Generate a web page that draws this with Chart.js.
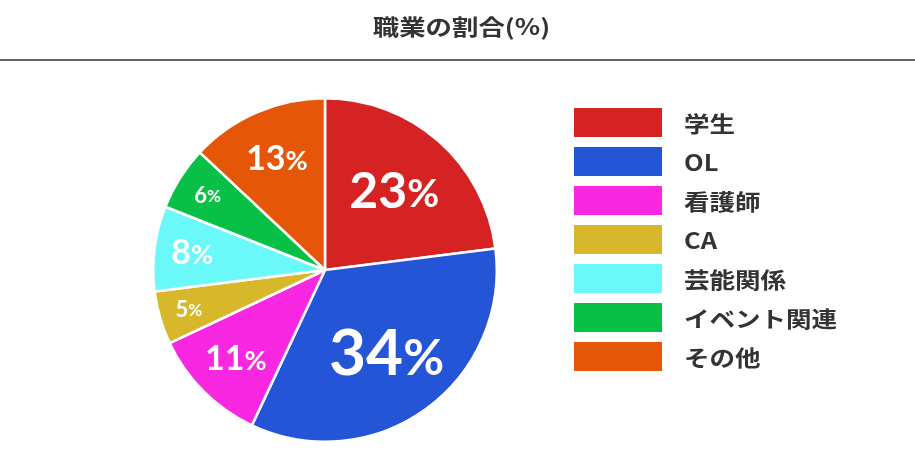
<!DOCTYPE html>
<html lang="ja">
<head>
<meta charset="UTF-8">
<title>職業の割合(%)</title>
<script src="https://cdn.jsdelivr.net/npm/chart.js"></script>
<style>
  html, body { margin: 0; padding: 0; background: #fff; }
  .wrap { position: relative; width: 915px; height: 450px; }
</style>
</head>
<body>
<div class="wrap">
  <canvas id="pie_jobs" width="915" height="450"></canvas>
</div>

<script>
    // data
    const shokugyo = ['学生', 'OL', '看護師', 'CA', '芸能関係', 'イベント関連', 'その他'];
    const wariai = [23, 34, 11, 5, 8, 6, 13];
    const iro = ['#d52323', '#2355d6', '#f828e2', '#d7b82a', '#6bf8f8', '#08c046', '#e65608'];
    const titleText = '職業の割合(%)';

    const jpFont = '"Noto Sans CJK JP", "Roboto", sans-serif';

    // text in the original is a bit wider than the font, so stretch it
    function wideText(ctx, text, x, y, sx) {
        ctx.save();
        ctx.translate(x, y);
        ctx.scale(sx, 1);
        ctx.fillText(text, 0, 0);
        ctx.restore();
    }

    // title + rule under it
    const headerPlugin = {
        id: 'header',
        afterDraw(chart) {
            const ctx = chart.ctx;
            ctx.save();
            ctx.fillStyle = '#333';
            ctx.font = 'bold 22px ' + jpFont;
            ctx.textAlign = 'center';
            ctx.textBaseline = 'middle';
            wideText(ctx, titleText, chart.width / 2 + 4, 27, 1.2);
            ctx.strokeStyle = '#333';
            ctx.lineWidth = 1.5;
            ctx.beginPath();
            ctx.moveTo(0, 60);
            ctx.lineTo(chart.width, 60);
            ctx.stroke();
            ctx.restore();
        }
    };

    // percentage labels inside slices
    function fontSizeFor(v) {
        if (v >= 30) return 64;
        if (v >= 20) return 50;
        if (v >= 8) return 34;
        return 22;
    }

    const sliceLabelPlugin = {
        id: 'sliceLabels',
        afterDatasetsDraw(chart) {
            const ctx = chart.ctx;
            const meta = chart.getDatasetMeta(0);
            const total = wariai.reduce((a, b) => a + b, 0);
            ctx.save();
            ctx.fillStyle = '#fff';
            ctx.textBaseline = 'middle';
            meta.data.forEach(function (arc, i) {
                const v = wariai[i];
                const frac = v / total;
                const mid = (arc.startAngle + arc.endAngle) / 2;
                const rf = Math.max(0.61, 0.9 - 1.5 * frac);
                const r = arc.outerRadius * rf;
                const x = arc.x + Math.cos(mid) * r;
                const y = arc.y + Math.sin(mid) * r;
                const fs = fontSizeFor(v);
                const numFont = 'bold ' + fs + 'px Lato, "Noto Sans", sans-serif';
                const pctFont = 'bold ' + Math.round(fs * 0.78) + 'px Lato, "Noto Sans", sans-serif';
                ctx.font = numFont;
                const wNum = ctx.measureText(String(v)).width;
                ctx.font = pctFont;
                const wPct = ctx.measureText('%').width;
                const left = x - (wNum + wPct) / 2;
                ctx.textAlign = 'left';
                ctx.font = numFont;
                ctx.fillText(String(v), left, y);
                ctx.font = pctFont;
                ctx.fillText('%', left + wNum, y + fs * 0.06);
            });
            ctx.restore();
        }
    };

    // legend on the right
    const sideLegendPlugin = {
        id: 'sideLegend',
        afterDraw(chart) {
            const ctx = chart.ctx;
            const boxX = 574, boxY = 108, boxW = 88, boxH = 29, step = 39;
            ctx.save();
            ctx.font = 'bold 22px ' + jpFont;
            ctx.textAlign = 'left';
            ctx.textBaseline = 'middle';
            for (let i = 0; i < shokugyo.length; i++) {
                const y = boxY + i * step;
                ctx.fillStyle = iro[i];
                ctx.fillRect(boxX, y, boxW, boxH);
                ctx.fillStyle = '#333';
                wideText(ctx, shokugyo[i], 684, y + boxH / 2 + 1, 1.16);
            }
            ctx.restore();
        }
    };

    const ctx = document.getElementById('pie_jobs').getContext('2d');
    const myChart = new Chart(ctx, {
        type: 'pie',
        data: {
            labels: shokugyo,
            datasets: [{
                data: wariai,
                backgroundColor: iro,
                borderColor: '#ffffff',
                borderWidth: 2.5
            }]
        },
        options: {
            responsive: false,
            animation: false,
            layout: {
                padding: { left: 152, right: 417, top: 97, bottom: 7 }
            },
            plugins: {
                legend: { display: false },
                title: { display: false },
                tooltip: { enabled: false }
            }
        },
        plugins: [headerPlugin, sliceLabelPlugin, sideLegendPlugin]
    });
</script>
</body>
</html>
